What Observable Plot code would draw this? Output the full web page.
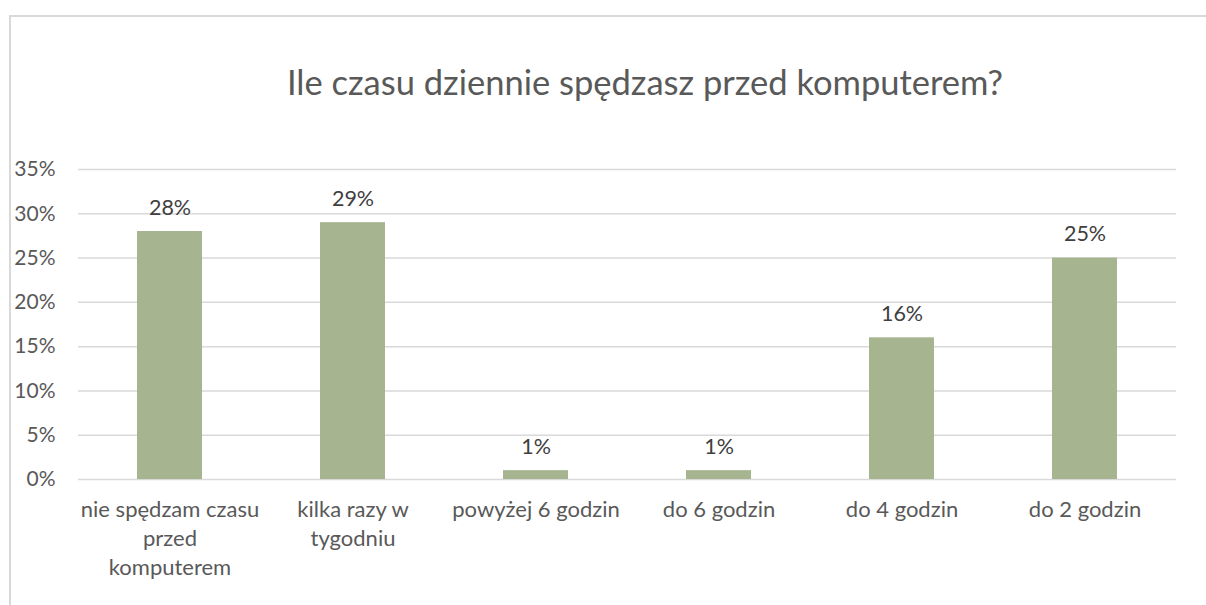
<!DOCTYPE html>
<html>
<head>
<meta charset="utf-8">
<script src="https://cdn.jsdelivr.net/npm/d3@7"></script>
<script src="https://cdn.jsdelivr.net/npm/@observablehq/plot@0.6"></script>
<style>
  html, body { margin: 0; padding: 0; background: #fff; }
  #wrap { position: relative; width: 1206px; height: 605px; overflow: hidden; background: #fff; font-family: Lato, sans-serif; }
  #frame { position: absolute; left: 9px; top: 15px; width: 1400px; height: 800px; border-left: 2px solid #d9d9d9; border-top: 2px solid #d9d9d9; box-sizing: border-box; }
  #title { position: absolute; left: 245px; width: 800px; top: 62px; text-align: center; font-size: 34.5px; color: #595959; line-height: 40px; white-space: nowrap; }
  #chart { position: absolute; left: 0; top: 140px; }
</style>
</head>
<body>
<div id="wrap">
  <div id="frame"></div>
  <div id="title">Ile czasu dziennie spędzasz przed komputerem?</div>
  <div id="chart"></div>
</div>
<script>
const categories = ["nie spędzam czasu przed komputerem", "kilka razy w tygodniu", "powyżej 6 godzin", "do 6 godzin", "do 4 godzin", "do 2 godzin"];
const tickLabels = ["nie spędzam czasu\nprzed\nkomputerem", "kilka razy w\ntygodniu", "powyżej 6 godzin", "do 6 godzin", "do 4 godzin", "do 2 godzin"];
const values = [0.28, 0.29, 0.01, 0.01, 0.16, 0.25];
const yTicks = [0, 0.05, 0.10, 0.15, 0.20, 0.25, 0.30, 0.35];

const data = categories.map((c, i) => ({category: c, value: values[i]}));
const labelOf = new Map(categories.map((c, i) => [c, tickLabels[i]]));
const pct = d3.format(".0%");

const chart = Plot.plot({
  width: 1206,
  height: 465,
  marginLeft: 78,
  marginRight: 30,
  marginTop: 29,
  marginBottom: 126,
  style: {fontFamily: "Lato, sans-serif", fontSize: "21px", color: "#595959", background: "transparent", overflow: "visible"},
  x: {domain: categories, padding: 0, axis: null},
  y: {domain: [0, 0.35], axis: null},
  marks: [
    Plot.gridY(yTicks, {stroke: "#d9d9d9", strokeOpacity: 1, strokeWidth: 1.5}),
    Plot.barY(data, {x: "category", y: "value", fill: "#a6b590", insetLeft: 59, insetRight: 59}),
    Plot.text(data, {x: "category", y: "value", text: d => pct(d.value), fill: "#404040", fontSize: 21.5, lineAnchor: "bottom", dy: -17}),
    Plot.axisY(yTicks, {tickSize: 0, tickPadding: 23, tickFormat: pct, fill: "#595959", fontSize: 21, label: null}),
    Plot.axisX({tickSize: 0, tickPadding: 17, tickFormat: d => labelOf.get(d), fill: "#595959", fontSize: 22, lineHeight: 1.32, label: null})
  ]
});
document.getElementById("chart").appendChild(chart);
</script>
</body>
</html>
